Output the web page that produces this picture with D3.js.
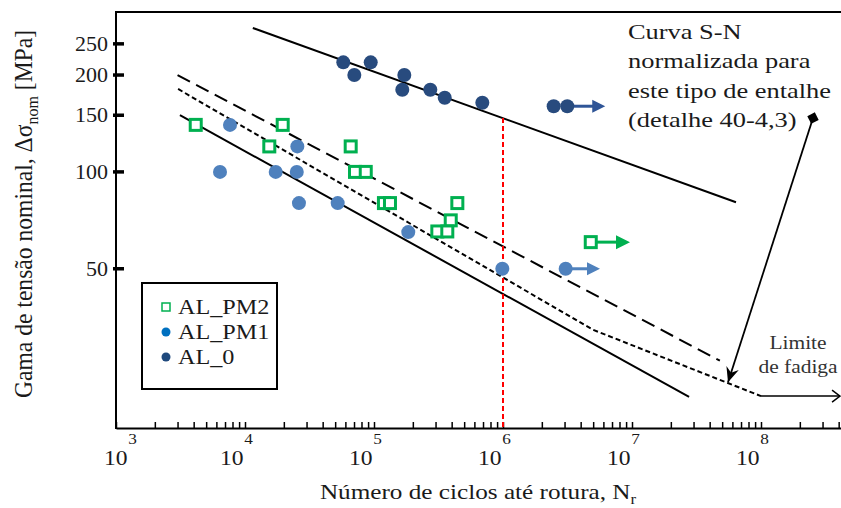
<!DOCTYPE html>
<html>
<head>
<meta charset="utf-8">
<script src="https://cdn.jsdelivr.net/npm/d3@7"></script>
<style>
  body { margin: 0; background: #fff; }
  text { font-family: "Liberation Serif", "Times New Roman", serif; fill: #1a1a1a; }
</style>
</head>
<body>
<div id="chart"></div>
<script>
// data: [cycles N, stress range MPa]
let al0 = [
  [57800, 219], [70400, 200], [94300, 219], [171800, 200], [165700, 180],
  [273200, 180], [353400, 170], [691400, 164], [2.47e6, 160], [3.15e6, 160]
]
let alPm1 = [
  [7650, 140], [6400, 100], [17300, 100], [25200, 100], [25450, 120],
  [26200, 80], [52300, 80], [184400, 65], [988000, 50], [3.06e6, 50]
]
let alPm2 = [
  [4150, 140], [19600, 140], [15430, 120], [65970, 120], [71240, 100],
  [86300, 100], [119400, 80], [133000, 80], [442600, 80], [393400, 70.7],
  [309700, 65.3], [370000, 65.3], [4.79e6, 60.5]
]
// run-outs: [start N, stress, end N]
let runouts = [
  { name: 'AL_0', n: 3.15e6, s: 160, end: 6.2e6 },
  { name: 'AL_PM1', n: 3.06e6, s: 50, end: 5.65e6 },
  { name: 'AL_PM2', n: 4.79e6, s: 60.5, end: 9.65e6 }
]
let upperFit = [[11500, 280], [6.4e7, 80.5]]
let dashedFit = [[3000, 200], [4.8e7, 25.9]]
let lowerFit = [[3130, 150], [2.77e7, 20]]
let snCurve = [[3030, 181], [5e6, 32.3], [1e8, 20.1]]
let cutOff = [[1e8, 20.1], [4.1e8, 20.1]]
let refLine = [[1e6, 147], [1e6, 16]]
let noteArrow = [[2.53e8, 147], [5.55e7, 22.2]]

let yTicks = [50, 100, 150, 200, 250]
let xDecades = [3, 4, 5, 6, 7, 8]
let noteLines = ['Curva S-N', 'normalizada para', 'este tipo de entalhe', '(detalhe 40-4,3)']
let limitLines = ['Limite', 'de fadiga']
let legendItems = [
  { name: 'AL_PM2', shape: 'square', color: '#00b050' },
  { name: 'AL_PM1', shape: 'circle', color: '#0070c0' },
  { name: 'AL_0', shape: 'circle', color: '#1f497d' }
]
let colors = { AL_0: '#284b7e', AL_PM1: '#4f81bd', AL_PM2: '#00b050' }
let arrowColors = { AL_0: '#2f5597', AL_PM1: '#4f81bd', AL_PM2: '#00b050' }

let width = 841
let height = 508
let margin = { top: 12, left: 116, right: 0, bottom: 80 }

let svg = d3
  .select('#chart')
  .append('svg')
  .attr('width', width)
  .attr('height', height)

let x = d3.scaleLog().domain([1e3, 4.17e8]).range([margin.left, width - margin.right])
let y = d3.scaleLog().domain([16, 314]).range([height - margin.bottom, margin.top])

let line = d3.line().x(d => x(d[0])).y(d => y(d[1]))

// stretched text helper (original picture is horizontally stretched)
function stext(parent, px, py, str, size, anchor, sx) {
  return parent
    .append('g')
    .attr('transform', `translate(${px},${py}) scale(${sx},1)`)
    .append('text')
    .attr('font-size', size)
    .attr('text-anchor', anchor)
    .text(str)
}

let defs = svg.append('defs')
defs
  .append('marker')
  .attr('id', 'stealth')
  .attr('viewBox', '-16 -8 18 16')
  .attr('markerUnits', 'userSpaceOnUse')
  .attr('markerWidth', 18)
  .attr('markerHeight', 16)
  .attr('refX', 0)
  .attr('refY', 0)
  .attr('orient', 'auto')
  .append('path')
  .attr('d', 'M0,0 L-15,-6.5 L-10,0 L-15,6.5 Z')
  .attr('fill', '#000')
defs
  .append('marker')
  .attr('id', 'diamond')
  .attr('viewBox', '-7 -7 14 14')
  .attr('markerUnits', 'userSpaceOnUse')
  .attr('markerWidth', 14)
  .attr('markerHeight', 14)
  .attr('orient', 'auto')
  .append('path')
  .attr('d', 'M0,-6 L6,0 L0,6 L-6,0 Z')
  .attr('fill', '#000')
defs
  .append('marker')
  .attr('id', 'open')
  .attr('viewBox', '-10 -7 12 14')
  .attr('markerUnits', 'userSpaceOnUse')
  .attr('markerWidth', 12)
  .attr('markerHeight', 14)
  .attr('orient', 'auto')
  .append('path')
  .attr('d', 'M-8,-6 L0,0 L-8,6')
  .attr('fill', 'none')
  .attr('stroke', '#000')
  .attr('stroke-width', 1.5)

// x axis with inward log ticks
let xAxis = svg
  .append('g')
  .attr('transform', `translate(0,${height - margin.bottom})`)
  .call(
    d3.axisBottom(x)
      .ticks(10)
      .tickSizeInner(-6)
      .tickSizeOuter(0)
      .tickFormat('')
  )
xAxis.select('.domain').attr('stroke', '#000').attr('stroke-width', 2)
xAxis.selectAll('.tick line').attr('stroke', '#000').attr('stroke-width', 1.5)

// decade labels: "10" with the exponent as a superscript tspan
xDecades.forEach(e => {
  let px = x(Math.pow(10, e)) - 25 + (e === 3 ? 13 : 0)
  let t = svg
    .append('g')
    .attr('transform', `translate(${px},465) scale(1.15,1)`)
    .append('text')
    .attr('font-size', 20.5)
  t.append('tspan').text('10')
  t.append('tspan')
    .attr('font-size', 15)
    .attr('dx', 0.5)
    .attr('dy', -21)
    .text(e)
})

// y axis
svg
  .append('line')
  .attr('x1', margin.left)
  .attr('x2', margin.left)
  .attr('y1', margin.top)
  .attr('y2', height - margin.bottom + 1)
  .attr('stroke', '#000')
  .attr('stroke-width', 2)
svg
  .append('line')
  .attr('x1', margin.left - 1)
  .attr('x2', width)
  .attr('y1', margin.top)
  .attr('y2', margin.top)
  .attr('stroke', '#000')
  .attr('stroke-width', 2)

svg
  .selectAll('.ytick')
  .data(yTicks)
  .enter()
  .append('line')
  .attr('class', 'ytick')
  .attr('x1', margin.left - 3)
  .attr('x2', margin.left + 8)
  .attr('y1', d => y(d))
  .attr('y2', d => y(d))
  .attr('stroke', '#000')
  .attr('stroke-width', 3.5)

svg
  .selectAll('.ylabel')
  .data(yTicks)
  .enter()
  .append('text')
  .attr('class', 'ylabel')
  .attr('x', 108)
  .attr('y', d => y(d) + 7)
  .attr('text-anchor', 'end')
  .attr('font-size', 22)
  .text(d => d)

// axis titles
let yTitle = svg
  .append('g')
  .attr('transform', 'translate(32,214) scale(1.1,1) rotate(-90)')
  .append('text')
  .attr('font-size', 23.6)
  .attr('text-anchor', 'middle')
yTitle.append('tspan').text('Gama de tensão nominal, Δσ')
yTitle.append('tspan').attr('font-size', 16).attr('dy', 5).text('nom')
yTitle.append('tspan').attr('dy', -5).text(' [MPa]')

let xTitle = svg
  .append('g')
  .attr('transform', 'translate(478,499) scale(1.2,1)')
  .append('text')
  .attr('font-size', 21)
  .attr('text-anchor', 'middle')
xTitle.append('tspan').text('Número de ciclos até rotura, N')
xTitle.append('tspan').attr('font-size', 14).attr('dy', 5).text('r')

// fit lines and S-N curve
svg.append('path').datum(upperFit).attr('d', line)
  .attr('fill', 'none').attr('stroke', '#000').attr('stroke-width', 2)
svg.append('path').datum(dashedFit).attr('d', line)
  .attr('fill', 'none').attr('stroke', '#000').attr('stroke-width', 2)
  .attr('stroke-dasharray', '14,7')
svg.append('path').datum(snCurve).attr('d', line)
  .attr('fill', 'none').attr('stroke', '#000').attr('stroke-width', 2)
  .attr('stroke-dasharray', '5,3')
svg.append('path').datum(lowerFit).attr('d', line)
  .attr('fill', 'none').attr('stroke', '#000').attr('stroke-width', 2)
svg.append('path').datum(cutOff).attr('d', line)
  .attr('fill', 'none').attr('stroke', '#000').attr('stroke-width', 1.5)
  .attr('marker-end', 'url(#open)')
svg.append('path').datum(refLine).attr('d', line)
  .attr('fill', 'none').attr('stroke', '#ff0000').attr('stroke-width', 2)
  .attr('stroke-dasharray', '5,3')

// run-out arrows
runouts.forEach(r => {
  let x0 = x(r.n) + 6
  let x1 = x(r.end)
  let py = y(r.s)
  let head = r.name === 'AL_PM2' ? 14 : 13
  svg.append('line')
    .attr('x1', x0).attr('x2', x1 - head + 1)
    .attr('y1', py).attr('y2', py)
    .attr('stroke', arrowColors[r.name]).attr('stroke-width', 3)
  svg.append('path')
    .attr('d', `M${x1},${py} L${x1 - head},${py - head / 2} L${x1 - head},${py + head / 2} Z`)
    .attr('fill', arrowColors[r.name])
})

// data points
svg.selectAll('.al0')
  .data(al0)
  .enter()
  .append('circle')
  .attr('class', 'al0')
  .attr('cx', d => x(d[0]))
  .attr('cy', d => y(d[1]))
  .attr('r', 7)
  .attr('fill', colors.AL_0)

svg.selectAll('.pm1')
  .data(alPm1)
  .enter()
  .append('circle')
  .attr('class', 'pm1')
  .attr('cx', d => x(d[0]))
  .attr('cy', d => y(d[1]))
  .attr('r', 7)
  .attr('fill', colors.AL_PM1)

svg.selectAll('.pm2')
  .data(alPm2)
  .enter()
  .append('rect')
  .attr('class', 'pm2')
  .attr('x', d => x(d[0]) - 5.5)
  .attr('y', d => y(d[1]) - 5.5)
  .attr('width', 11)
  .attr('height', 11)
  .attr('fill', '#fff')
  .attr('stroke', colors.AL_PM2)
  .attr('stroke-width', 3)

// annotation arrow
svg.append('path').datum(noteArrow).attr('d', line)
  .attr('fill', 'none').attr('stroke', '#000').attr('stroke-width', 1.8)
  .attr('marker-start', 'url(#diamond)')
  .attr('marker-end', 'url(#stealth)')

noteLines.forEach((t, i) => {
  stext(svg, 628, 39 + i * 29.3, t, 22, 'start', 1.2)
})
limitLines.forEach((t, i) => {
  stext(svg, 798, 349 + i * 23.5, t, 19.5, 'middle', 1.1).style('fill', '#333')
})

// legend
let legend = svg.append('g')
legend.append('rect')
  .attr('x', 142).attr('y', 283).attr('width', 135).attr('height', 106)
  .attr('fill', '#fff').attr('stroke', '#000').attr('stroke-width', 2)
legendItems.forEach((d, i) => {
  let cy = 307 + i * 25
  if (d.shape === 'square') {
    legend.append('rect')
      .attr('x', 162).attr('y', cy - 4).attr('width', 8).attr('height', 8)
      .attr('fill', '#fff').attr('stroke', d.color).attr('stroke-width', 1.5)
  } else {
    legend.append('circle')
      .attr('cx', 166).attr('cy', cy).attr('r', 4.5).attr('fill', d.color)
  }
  stext(legend, 178, cy + 7, d.name, 20.5, 'start', 1.18)
})
</script>
</body>
</html>
